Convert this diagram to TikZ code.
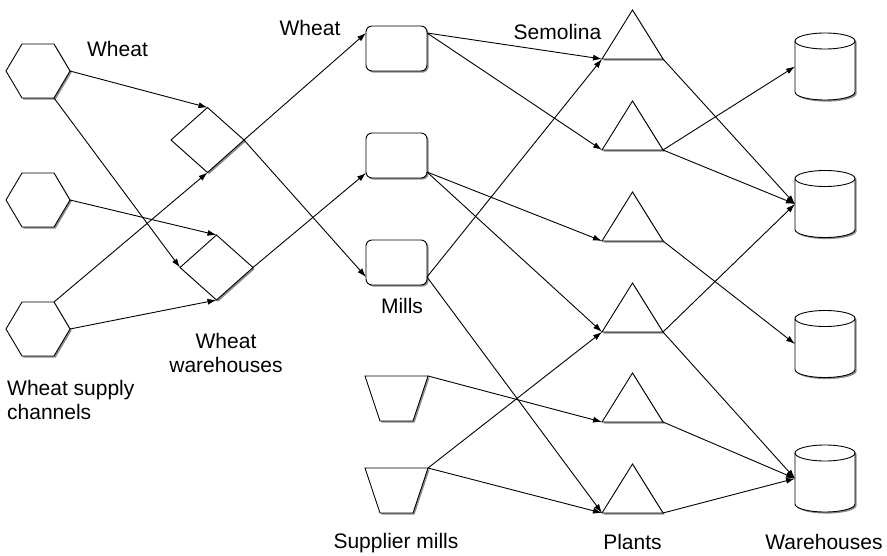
\documentclass[tikz,border=0pt]{standalone}
\usepackage{fontspec}
\setmainfont{Liberation Sans}
\usetikzlibrary{shadows,arrows.meta,calc}
\begin{document}
\begin{tikzpicture}[x=1pt,y=-1pt,
  holder/.style={inner sep=0pt,outer sep=0pt,draw=none},
  shp/.style={draw=black,line width=0.9pt,fill=white,line join=miter,
    drop shadow={shadow xshift=1.6pt,shadow yshift=-1.6pt,fill=black!45,opacity=1}},
  conn/.style={line width=0.9pt,-{Latex[length=9pt,width=6pt]}},
  lbl/.style={font=\fontsize{21}{24}\selectfont,inner sep=0pt}]
\path[use as bounding box,fill=white] (0,0) rectangle (887,556);

% wheat supply channels (hexagons)
\foreach \n/\y in {h1/71,h2/200,h3/329}{
  \node[holder,minimum width=64pt,minimum height=54pt] (\n) at (38,\y) {};
  \draw[shp,shift={(\n.center)}] (-32,0) -- (-16,-27) -- (16,-27) -- (32,0) -- (16,27) -- (-16,27) -- cycle;
}
% wheat warehouses (diamonds)
\node[holder,minimum width=73pt,minimum height=65pt] (w1) at (207.5,140) {};
\node[holder,minimum width=73pt,minimum height=65pt] (w2) at (216.5,267.5) {};
\foreach \n in {w1,w2}{
  \draw[shp] (\n.north) -- (\n.east) -- (\n.south) -- (\n.west) -- cycle;
}
% mills
\foreach \n/\y in {m1/48.5,m2/155.5,m3/262.5}{
  \node[shp,rounded corners=6pt,minimum width=61pt,minimum height=45pt,inner sep=0pt,outer sep=0pt] (\n) at (396.5,\y) {};
}
% supplier mills (trapezoids)
\foreach \n/\y in {s1/398.5,s2/490.5}{
  \node[holder,minimum width=63pt,minimum height=45pt] (\n) at (396.5,\y) {};
  \draw[shp] (\n.north west) -- (\n.north east) -- ([xshift=-15pt]\n.south east) -- ([xshift=15pt]\n.south west) -- cycle;
}
% plants (triangles)
\foreach \n/\y in {t1/34.5,t2/125.5,t3/216.5,t4/307.5,t5/397.5,t6/488.5}{
  \node[holder,minimum width=61pt,minimum height=49pt] (\n) at (632.5,\y) {};
  \draw[shp] (\n.south west) -- (\n.north) -- (\n.south east) -- cycle;
}
% warehouses (cylinders)
\foreach \n/\y in {c1/66.5,c2/204,c3/344,c4/478.5}{
  \node[holder,minimum width=60pt,minimum height=67pt] (\n) at (825,\y) {};
  \draw[shp,shift={(\n.center)}] (-30,-25.5) -- (-30,25.5)
     arc[start angle=180,end angle=360,x radius=30pt,y radius=8pt] -- (30,-25.5)
     arc[start angle=0,end angle=180,x radius=30pt,y radius=8pt] -- cycle;
  \draw[line width=0.9pt,shift={(\n.center)}] (-30,-25.5)
     arc[start angle=180,end angle=360,x radius=30pt,y radius=8pt];
}

% connectors
\draw[conn] (h1.east) -- (w1.north);
\draw[conn] ([xshift=-16pt]h1.south east) -- (w2.west);
\draw[conn] (h2.east) -- (w2.north);
\draw[conn] ([xshift=-16pt]h3.north east) -- (w1.south);
\draw[conn] (h3.east) -- (w2.south);

\draw[conn] (w1.east) -- ([yshift=-7pt]m1.north west);
\draw[conn] (w1.east) -- ([yshift=8pt]m3.south west);
\draw[conn] (w2.east) -- ([yshift=5pt]m2.south west);

\draw[conn] ([yshift=-7pt]m1.north east) -- (t1.south west);
\draw[conn] ([yshift=-7pt]m1.north east) -- (t2.south west);
\draw[conn] ([yshift=6pt]m2.south east) -- (t3.south west);
\draw[conn] ([yshift=6pt]m2.south east) -- (t4.south west);
\draw[conn] ([yshift=8pt]m3.south east) -- (t1.south west);
\draw[conn] ([yshift=8pt]m3.south east) -- (t6.south west);

\draw[conn] (s1.north east) -- (t5.south west);
\draw[conn] (s2.north east) -- (t4.south west);
\draw[conn] (s2.north east) -- (t6.south west);

\draw[conn] (t1.south east) -- (c2.west);
\draw[conn] (t2.south east) -- (c1.west);
\draw[conn] (t2.south east) -- (c2.west);
\draw[conn] (t3.south east) -- (c3.west);
\draw[conn] (t4.south east) -- (c2.west);
\draw[conn] (t4.south east) -- (c4.west);
\draw[conn] (t5.south east) -- (c4.west);
\draw[conn] (t6.south east) -- (c4.west);

% labels
\node[lbl,anchor=base] (lw1) at (117.5,57) {Wheat};
\node[lbl,anchor=base] (lw2) at (310,36) {Wheat};
\node[lbl,anchor=base] (lsem) at (557.5,40) {Semolina};
\node[lbl,anchor=base] (lmills) at (402,313) {Mills};
\node[lbl,anchor=north,align=center] (lww) at (226,332.7) {Wheat\\warehouses};
\node[lbl,anchor=north west,align=left] (lwsc) at (7,379.7) {Wheat supply\\channels};
\node[lbl,anchor=base] (lsup) at (396,548) {Supplier mills};
\node[lbl,anchor=base] (lpl) at (632.5,549) {Plants};
\node[lbl,anchor=base] (lwh) at (824,549) {Warehouses};
\end{tikzpicture}
\end{document}
